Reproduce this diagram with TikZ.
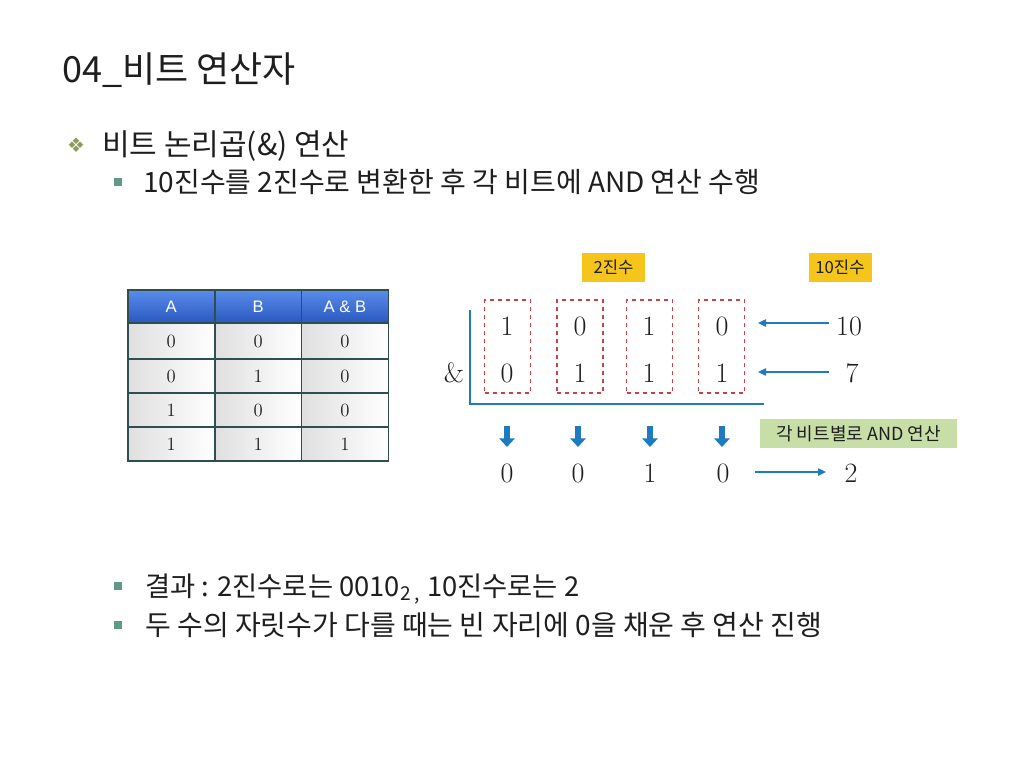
\documentclass[tikz,border=0pt]{standalone}
\usepackage{fontspec}
\newfontfamily\krf{Noto Sans CJK KR}
\newfontfamily\djvf{DejaVu Sans}
\newfontfamily\arf{Liberation Sans}
\usetikzlibrary{arrows.meta}
\definecolor{txt}{HTML}{1E1E1E}
\definecolor{bulletgreen}{HTML}{8E9B5E}
\definecolor{sqgreen}{HTML}{5E9C86}
\definecolor{hdrtop}{HTML}{5A8CEB}
\definecolor{hdrbot}{HTML}{2A58BE}
\definecolor{gridc}{HTML}{2F4F4F}
\definecolor{lblue}{HTML}{1F7BC0}
\definecolor{dred}{HTML}{C8404A}
\definecolor{yel}{HTML}{F5C51C}
\definecolor{lgreen}{HTML}{C7DFA6}
\begin{document}
\begin{tikzpicture}[x={(0.75pt,0)},y={(0,-0.75pt)},
  sizef/.style={font=\krf\fontsize{#1}{#1}\selectfont},
  bodytext/.style={anchor=base west, inner sep=0, text=txt},
  sqbullet/.style={fill=sqgreen, minimum size=5.5pt, inner sep=0},
  cellbox/.style={draw=gridc, line width=1pt, inner sep=0, minimum width=65pt, minimum height=#1,
     left color=gray!25, right color=white, text=txt, font=\fontsize{14}{14}\selectfont},
  hdrbox/.style={draw=gridc, line width=1pt, inner sep=0, minimum width=65pt, minimum height=24.75pt,
     top color=hdrtop, bottom color=hdrbot, text=white, font=\arf\fontsize{12.5}{13}\selectfont},
  dbox/.style={draw=dred, dashed, line width=0.8pt, minimum width=34.5pt, minimum height=69.75pt, inner sep=0},
  ybox/.style={fill=yel, minimum width=47.25pt, minimum height=21.75pt, inner sep=0, text=txt, sizef=12.5},
  gbox/.style={fill=lgreen, minimum width=147.75pt, minimum height=21.75pt, inner sep=0, text=txt, sizef=13.5},
  digit/.style={text=txt, inner sep=1pt, font=\fontsize{21}{21}\selectfont},
  thinarrow/.style={draw=lblue, line width=1pt, -{Triangle[length=6pt,width=5.5pt]}},
  thickarrow/.style={draw=lblue, line width=4pt, -{Triangle[length=6.5pt,width=11.5pt]}}
]
\useasboundingbox (0,0) rectangle (1024,768);
\fill[white] (0,0) rectangle (1024,768);

% title and bullets
\node[bodytext, sizef=27] (title) at (62,82) {04\_비트 연산자};
\node[text=bulletgreen, inner sep=0, font=\djvf\fontsize{15}{15}\selectfont] (bul1) at (76,145) {❖};
\node[bodytext, sizef=22.5] (t1) at (102,155) {비트 논리곱(\&) 연산};
\node[sqbullet] (sq2) at (118,182) {};
\node[bodytext, sizef=21] (t2) at (143,192) {10진수를 2진수로 변환한 후 각 비트에 AND 연산 수행};
\node[sqbullet] (sq3) at (118,586) {};
\node[bodytext, sizef=20.5] (t3) at (145,596) {결과 : 2진수로는 0010\textsubscript{2\ ,} 10진수로는 2};
\node[sqbullet] (sq4) at (118,625) {};
\node[bodytext, sizef=21] (t4) at (145,635) {두 수의 자릿수가 다를 때는 빈 자리에 0을 채운 후 연산 진행};

% truth table
\node[hdrbox] (hA) at (171.2,306.5) {A};
\node[hdrbox] (hB) at (258.3,306.5) {B};
\node[hdrbox] (hAB) at (345,306.5) {A \& B};
\node[cellbox=27pt] (c11) at (171.2,341) {0};
\node[cellbox=27pt] (c12) at (258.3,341) {0};
\node[cellbox=27pt] (c13) at (345,341) {0};
\node[cellbox=25.5pt] (c21) at (171.2,376) {0};
\node[cellbox=25.5pt] (c22) at (258.3,376) {1};
\node[cellbox=25.5pt] (c23) at (345,376) {0};
\node[cellbox=25.5pt] (c31) at (171.2,410) {1};
\node[cellbox=25.5pt] (c32) at (258.3,410) {0};
\node[cellbox=25.5pt] (c33) at (345,410) {0};
\node[cellbox=25.5pt] (c41) at (171.2,444) {1};
\node[cellbox=25.5pt] (c42) at (258.3,444) {1};
\node[cellbox=25.5pt] (c43) at (345,444) {1};

% labels
\node[ybox] (y2) at (613.5,267.5) {2진수};
\node[ybox] (y10) at (840,267.5) {10진수};

% dashed columns
\node[dbox] (d1) at (507.5,346.5) {};
\node[dbox] (d2) at (580,346.5) {};
\node[dbox] (d3) at (649.5,346.5) {};
\node[dbox] (d4) at (721.5,346.5) {};

% bits
\node[digit] (a1) at (507,326) {1};
\node[digit] (a2) at (580,326) {0};
\node[digit] (a3) at (649,326) {1};
\node[digit] (a4) at (722,326) {0};
\node[digit] (b1) at (507,373) {0};
\node[digit] (b2) at (580,373) {1};
\node[digit] (b3) at (649,373) {1};
\node[digit] (b4) at (722,373) {1};
\node[digit] (amp) at (454,373) {\&};

% bracket line
\coordinate (v1) at (470,310);
\coordinate (v2) at (470,404);
\coordinate (v3) at (764,404);
\draw[lblue, line width=1.5pt] (v1) -- (v2) -- (v3);

% decimals
\node[digit] (n10) at (849,326) {10};
\node[digit] (n7) at (852,373) {7};
\coordinate (e1) at (758,323);
\coordinate (s1) at (829,323);
\coordinate (e2) at (758,372);
\coordinate (s2) at (829,372);
\draw[thinarrow] (s1) -- (e1);
\draw[thinarrow] (s2) -- (e2);

% down arrows
\foreach \i/\x in {1/507,2/578,3/650,4/722}{
  \coordinate (u\i) at (\x,426);
  \coordinate (w\i) at (\x,447);
  \draw[thickarrow] (u\i) -- (w\i);
}

\node[gbox] (g) at (858.5,433.5) {각 비트별로 AND 연산};

% result
\node[digit] (r1) at (507,473) {0};
\node[digit] (r2) at (578,473) {0};
\node[digit] (r3) at (650,473) {1};
\node[digit] (r4) at (723,473) {0};
\node[digit] (n2) at (851,473) {2};
\coordinate (rs) at (755,472);
\coordinate (re) at (826,472);
\draw[thinarrow] (rs) -- (re);
\end{tikzpicture}
\end{document}
